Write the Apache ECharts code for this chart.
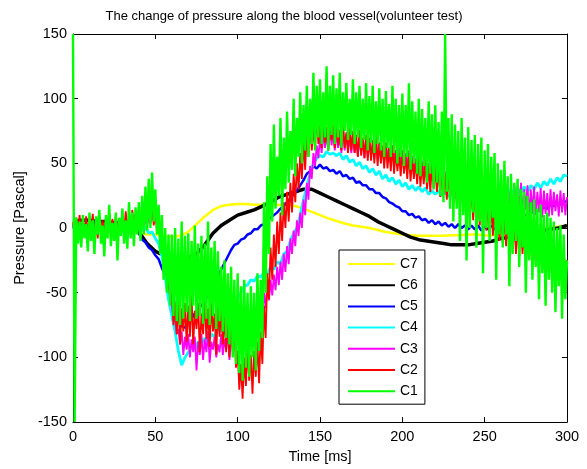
<!DOCTYPE html>
<html>
<head>
<meta charset="utf-8">
<script src="https://cdn.jsdelivr.net/npm/echarts@6/dist/echarts.min.js"></script>
<style>html,body{margin:0;padding:0;background:#fff}#c{width:587px;height:469px}</style>
</head>
<body>
<div id="c"></div>
<script>
// ---- tick labels ----
const xTicks = [0, 50, 100, 150, 200, 250, 300];
const yTicks = [-150, -100, -50, 0, 50, 100, 150];
const seriesNames = ['C7', 'C6', 'C5', 'C4', 'C3', 'C2', 'C1'];
const seriesColors = ['#ffff00', '#000000', '#0000ff', '#00ffff', '#ff00ff', '#ff0000', '#00ff00'];

// ---- sample steps (ms) ----
const stepC7 = 5, stepC6 = 5, stepC5 = 2, stepC4 = 2, stepC3 = 1, stepC2 = 1, stepC1 = 1;

// ---- values (Pa) ----
const C7 = [-2,-2,-1,-2,-2,-2,-3,-3,-4,-5,
  -5,-6,-7,-6,-3,3,9,14,17,18,
  18.5,18.5,18,18,18,18,17.5,17,15,12.5,
  10,7.5,5.5,3.5,2,1,0,-1.5,-3,-4,
  -5,-5.5,-6,-6,-6,-6,-5.5,-5.5,-5,-5,
  -5.5,-5.5,-5,-4.5,-4,-3,-2,-1,0,1,2];

const C6 = [5,6,6,5,5,4,4,3,-3,-12,
  -18,-21,-23,-24,-23,-20,-13,-4,2,6,
  10,12,14,17,20,24,26,28,30,30,
  27,24,21,18,15,12,9,5,2,-1,
  -4,-7,-9,-10,-11,-12,-13,-13,-13,-12,
  -11,-10,-8,-7,-6,-5,-3,-2,-1,0,2];

const C5 = [3,0,4,1,3,-1,4,2,3,0,
  3,1,2,-1,3,1,2,0,1,-1,
  -4,-9,-11,-15,-17,-21,-24,-31,-36,-45,
  -50,-60,-68,-76,-77,-72,-70,-66,-62,-60,
  -56,-52,-47,-42,-37,-32,-27,-22,-17,-13,
  -12,-9,-8,-5,-4,-1,-1,2,3,6,
  8,10,12,15,17,20,23,26,29,33,
  37,42,44,48,46,49,46,47,44,45,
  42,44,40,41,38,39,35,36,33,33,
  30,30,27,27,24,23,20,19,17,16,
  13,13,10,11,8,9,6,7,4,6,
  3,5,2,4,1,3,0,3,0,2,
  -1,2,-1,2,-2,1,-1,2,-1,1,
  0,2,2,4,5,7,8,10,10,12,
  12,14,14,16,15,18,17,19,18,21,20];

const C4 = [1,-3,2,-2,3,-4,1,-1,2,-3,
  2,-1,3,-2,1,-3,2,0,3,-1,
  3,-2,1,-4,-3,-8,-12,-22,-38,-55,
  -68,-80,-95,-106,-100,-96,-92,-94,-88,-90,
  -85,-88,-82,-84,-78,-80,-72,-74,-66,-62,
  -55,-50,-45,-44,-40,-41,-37,-38,-34,-36,
  -30,-32,-26,-28,-20,-18,-10,-4,0,10,
  22,32,42,50,54,56,55,59,57,58,
  56,58,53,56,51,53,48,51,46,48,
  43,46,41,44,38,41,36,39,34,37,
  32,35,30,33,29,32,28,31,26,29,
  26,29,25,28,24,28,23,27,23,27,
  22,26,22,26,21,26,22,27,23,28,
  24,29,25,30,26,31,27,32,28,33,
  30,35,31,36,33,38,34,39,36,41,40];

const C3 = [2,-3,4,-2,3,-4,2,-1,3,-3,
  1,-2,4,-3,2,-4,3,-1,2,-2,
  3,-2,4,-3,2,-1,3,-4,2,0,
  3,-2,4,-1,2,-3,4,0,3,-2,
  4,0,5,1,6,2,8,3,12,5,
  8,2,3,-5,-10,-18,-25,-35,-42,-55,
  -58,-72,-70,-82,-78,-90,-80,-98,-84,-94,
  -82,-100,-86,-96,-84,-110,-88,-98,-82,-102,
  -86,-96,-80,-104,-88,-94,-84,-100,-90,-96,
  -82,-98,-86,-94,-80,-102,-84,-96,-82,-92,
  -80,-94,-78,-90,-76,-88,-72,-84,-68,-80,
  -64,-76,-60,-72,-56,-66,-50,-62,-45,-56,
  -40,-52,-36,-48,-30,-44,-26,-40,-20,-34,
  -14,-28,-8,-20,-2,-14,6,-6,12,0,
  22,10,35,22,48,38,58,48,64,54,
  70,58,74,62,72,60,78,64,72,60,
  74,62,70,58,76,60,72,62,68,58,
  72,58,66,56,70,58,68,54,70,56,
  68,56,64,54,68,52,66,54,62,52,
  66,54,62,50,64,52,60,48,62,50,
  60,48,58,46,60,44,56,46,54,42,
  56,42,52,40,54,38,50,40,48,36,
  50,36,46,34,48,32,44,34,42,30,
  44,30,40,28,42,26,38,28,36,24,
  38,24,36,22,38,20,34,22,36,18,
  34,20,36,16,32,18,34,14,32,16,
  35,14,32,12,36,15,30,10,34,14,
  32,12,35,10,30,14,33,9,30,12,
  32,10,28,12,31,8,29,11,27,9,
  30,10,28,13,26,9,29,12,27,10,
  24];

const C2 = [5,-6,8,-4,10,-8,6,-2,9,-5,
  7,-3,11,-6,4,-8,9,-1,6,-7,
  8,-4,12,-2,7,-6,10,0,5,-3,
  9,-4,13,0,8,-5,14,2,10,-2,
  16,4,20,6,24,10,18,4,22,2,
  12,-2,6,-10,-5,-22,-15,-38,-30,-55,
  -48,-75,-58,-82,-55,-90,-62,-80,-58,-88,
  -60,-84,-52,-90,-64,-78,-58,-96,-66,-82,
  -55,-86,-62,-92,-58,-80,-66,-98,-60,-84,
  -62,-90,-68,-96,-64,-100,-70,-92,-78,-108,
  -95,-125,-105,-132,-100,-122,-92,-118,-98,-128,
  -95,-115,-88,-120,-80,-105,-60,-85,-35,-55,
  -15,-40,-5,-30,5,-20,12,-10,20,0,
  28,5,35,12,42,20,50,30,58,38,
  68,45,75,55,82,60,78,62,88,65,
  80,62,85,66,78,60,84,68,80,62,
  82,64,76,60,80,62,74,58,78,60,
  75,58,72,55,76,56,70,54,72,52,
  70,52,68,50,72,48,66,50,64,46,
  66,46,62,44,64,42,60,44,58,40,
  60,42,56,38,58,36,54,38,52,34,
  54,32,50,34,52,30,48,28,50,30,
  46,28,48,24,44,26,42,22,44,20,
  40,18,38,20,36,14,34,16,32,10,
  30,8,32,6,28,4,26,2,24,0,
  22,-2,20,-5,18,-6,16,-8,14,-10,
  12,-12,10,-14,8,-15,6,-18,5,-20,
  3,-22,2,-20,0,-25,-2,-24,-5,-26,
  -6,-28,-8,-14,-10,-30,-12,-18,-14,-32,
  -12,-26,-16,-34,-14,-28,-18,-35,-20,-30,
  -25];

const C1 = [150,-150,8,-12,5,-15,10,-8,3,-18,
  12,-10,6,-20,9,-5,14,-12,2,-22,
  10,-8,18,-14,4,-10,12,-25,8,-6,
  15,-12,6,-16,20,-8,12,-14,16,-5,
  20,-10,25,-5,32,-2,38,0,43,5,
  30,-5,18,-20,10,-40,0,-50,-5,-60,
  -5,-68,0,-72,-8,-75,5,-70,-6,-65,
  -4,-72,-10,-60,2,-70,-12,-68,-6,-74,
  -12,-70,5,-75,-15,-68,-10,-78,-18,-72,
  -30,-80,-25,-85,-35,-90,-30,-100,-40,-105,
  -35,-112,-45,-118,-40,-108,-50,-115,-45,-100,
  -50,-110,-35,-95,-40,-85,20,-50,40,-20,
  65,5,80,15,55,25,85,10,70,30,
  90,35,75,45,100,40,85,55,105,50,
  95,60,110,55,100,65,120,60,110,70,
  115,65,105,70,125,60,110,72,118,65,
  108,70,120,62,105,75,112,68,100,72,
  115,65,105,70,110,62,100,68,112,60,
  102,66,110,58,98,65,108,60,100,55,
  106,62,96,55,110,58,100,50,95,55,
  104,48,95,55,112,45,98,50,90,42,
  100,40,92,48,85,35,98,42,88,30,
  95,35,82,25,90,20,150,28,85,15,
  88,5,80,15,75,-10,85,10,70,-25,
  78,0,68,12,72,-15,65,5,70,-35,
  60,0,65,-10,55,8,58,-40,50,-5,
  45,-15,52,-5,40,-45,42,-20,35,-10,
  38,-30,30,-15,28,-50,25,-25,20,-40,
  22,-30,15,-55,18,-35,10,-60,12,-40,
  8,-50,5,-65,0,-45,2,-70,-5,-55,
  -25];

const seriesValues = [C7, C6, C5, C4, C3, C2, C1];
const seriesSteps = [stepC7, stepC6, stepC5, stepC4, stepC3, stepC2, stepC1];
const seriesWidths = [2.5, 3.5, 2.5, 2.8, 1.8, 1.8, 2.4];

function pairs(vals, step) { return vals.map((v, i) => [i * step, v]); }

const FONT = 'Liberation Sans';
const chart = echarts.init(document.getElementById('c'), null, {renderer: 'canvas'});

const baseX = {
  type: 'value', min: xTicks[0], max: xTicks[xTicks.length - 1], interval: xTicks[1] - xTicks[0],
  splitLine: {show: false},
  axisLine: {show: true, onZero: false, lineStyle: {color: '#000', width: 1}},
  axisTick: {show: true, inside: true, length: 5, lineStyle: {color: '#000'}}
};
const baseY = {
  type: 'value', min: yTicks[0], max: yTicks[yTicks.length - 1], interval: yTicks[1] - yTicks[0],
  splitLine: {show: false},
  axisLine: {show: true, onZero: false, lineStyle: {color: '#000', width: 1}},
  axisTick: {show: true, inside: true, length: 5, lineStyle: {color: '#000'}}
};

chart.setOption({
  animation: false,
  backgroundColor: '#fff',
  title: {
    text: 'The change of pressure along the blood vessel(volunteer test)',
    left: 284, top: 10, textAlign: 'center', padding: 0,
    textStyle: {fontFamily: FONT, fontSize: 13, fontWeight: 'normal', color: '#000'}
  },
  grid: {left: 73, right: 20, top: 34, bottom: 45, containLabel: false},
  xAxis: [
    Object.assign({}, baseX, {
      position: 'bottom',
      name: 'Time [ms]', nameLocation: 'middle', nameGap: 25,
      nameTextStyle: {fontFamily: FONT, fontSize: 14.5, color: '#000'},
      axisLabel: {show: true, margin: 7, fontFamily: FONT, fontSize: 14.5, color: '#000'}
    }),
    Object.assign({}, baseX, {position: 'top', axisLabel: {show: false}})
  ],
  yAxis: [
    Object.assign({}, baseY, {
      position: 'left',
      name: 'Pressure [Pascal]', nameLocation: 'middle', nameGap: 42, nameRotate: 90,
      nameTextStyle: {fontFamily: FONT, fontSize: 14.5, color: '#000'},
      axisLabel: {show: true, margin: 6, fontFamily: FONT, fontSize: 14.5, color: '#000'}
    }),
    Object.assign({}, baseY, {position: 'right', axisLabel: {show: false}})
  ],
  legend: {
    data: seriesNames,
    orient: 'vertical', left: 339, top: 250,
    icon: 'rect',
    itemWidth: 47, itemHeight: 2, itemGap: 7.2,
    padding: [7, 7, 6, 9],
    backgroundColor: '#fff', borderColor: '#000', borderWidth: 1, borderRadius: 0,
    selectedMode: false,
    textStyle: {fontFamily: FONT, fontSize: 14, lineHeight: 14, color: '#000'}
  },
  series: seriesNames.map((n, k) => ({
    name: n, type: 'line', xAxisIndex: 0, yAxisIndex: 0,
    data: pairs(seriesValues[k], seriesSteps[k]),
    symbol: 'none', showSymbol: false, sampling: null,
    smooth: false, clip: true,
    lineStyle: {color: seriesColors[k], width: seriesWidths[k]},
    itemStyle: {color: seriesColors[k]},
    emphasis: {disabled: true}
  }))
});
</script>
</body>
</html>
